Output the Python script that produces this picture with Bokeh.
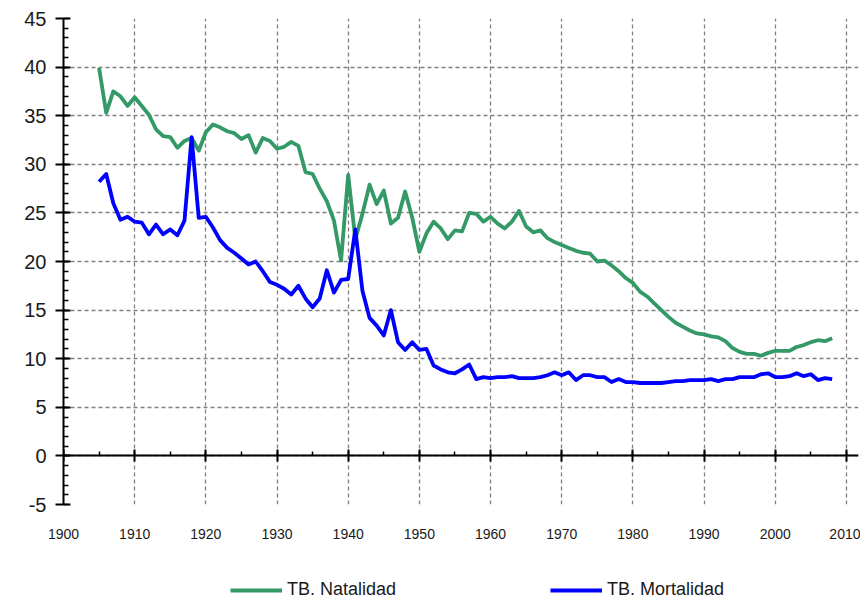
from bokeh.plotting import figure
from bokeh.layouts import column
from bokeh.models import (Range1d, SingleIntervalTicker, LinearAxis, Legend,
                          LegendItem, ColumnDataSource, Grid)
from bokeh.embed import file_html
from bokeh.resources import INLINE

years = list(range(1905, 2009))
natalidad = [39.9, 35.3, 37.5, 37.0, 36.0, 36.9, 36.0, 35.1, 33.6, 32.9,
             32.8, 31.7, 32.4, 32.7, 31.4, 33.3, 34.1, 33.8, 33.4, 33.2,
             32.6, 33.0, 31.2, 32.7, 32.4, 31.6, 31.8, 32.3, 31.9, 29.2,
             29.0, 27.5, 26.2, 24.2, 20.1, 28.9, 22.3, 24.9, 27.9, 25.9,
             27.3, 23.9, 24.5, 27.2, 24.5, 21.0, 22.9, 24.1, 23.4, 22.3,
             23.2, 23.1, 25.0, 24.9, 24.1, 24.6, 23.9, 23.4, 24.1, 25.2,
             23.6, 23.0, 23.2, 22.4, 22.0, 21.7, 21.4, 21.1, 20.9, 20.8,
             20.0, 20.1, 19.6, 19.0, 18.3, 17.8, 16.9, 16.4, 15.7, 15.0,
             14.3, 13.7, 13.3, 12.9, 12.6, 12.5, 12.3, 12.2, 11.8, 11.1,
             10.7, 10.5, 10.5, 10.3, 10.6, 10.8, 10.8, 10.8, 11.2, 11.4,
             11.7, 11.9, 11.8, 12.1]
mortalidad = [28.2, 29.0, 26.0, 24.3, 24.6, 24.1, 24.0, 22.8, 23.8, 22.8,
              23.3, 22.7, 24.2, 32.8, 24.5, 24.6, 23.5, 22.2, 21.4, 20.9,
              20.3, 19.7, 20.0, 19.0, 17.9, 17.6, 17.2, 16.6, 17.5, 16.2,
              15.3, 16.2, 19.1, 16.8, 18.1, 18.2, 23.3, 17.0, 14.2, 13.4,
              12.4, 15.0, 11.7, 10.9, 11.7, 10.9, 11.0, 9.3, 8.9, 8.6,
              8.5, 8.9, 9.4, 7.9, 8.1, 8.0, 8.1, 8.1, 8.2, 8.0,
              8.0, 8.0, 8.1, 8.3, 8.6, 8.3, 8.6, 7.8, 8.3, 8.3,
              8.1, 8.1, 7.6, 7.9, 7.6, 7.6, 7.5, 7.5, 7.5, 7.5,
              7.6, 7.7, 7.7, 7.8, 7.8, 7.8, 7.9, 7.7, 7.9, 7.9,
              8.1, 8.1, 8.1, 8.4, 8.5, 8.1, 8.1, 8.2, 8.5, 8.2,
              8.4, 7.8, 8.0, 7.9]
series_names = ["TB. Natalidad", "TB. Mortalidad"]
series_colors = ["#339966", "#0000FF"]
y_label_overrides = {-5: "-5"}

FONT = "Liberation Sans"
LW = 3.8

p = figure(width=860, height=578, output_backend="svg", toolbar_location=None,
           x_range=Range1d(1900, 2011.7), y_range=Range1d(-5, 45),
           x_axis_type=None, y_axis_type=None,
           min_border_left=63, min_border_right=2, min_border_top=18,
           min_border_bottom=74)
p.outline_line_color = None
p.background_fill_color = "white"
p.border_fill_color = "white"

xt = SingleIntervalTicker(interval=10, num_minor_ticks=2)
yt = SingleIntervalTicker(interval=5, num_minor_ticks=5)

# y axis
yax = LinearAxis(ticker=yt)
yax.axis_line_color = "black"
yax.axis_line_width = 2
yax.major_tick_line_color = "black"
yax.major_tick_line_width = 2
yax.major_tick_in = 7
yax.major_tick_out = 8
yax.minor_tick_line_color = "black"
yax.minor_tick_line_width = 1.5
yax.minor_tick_in = 5
yax.minor_tick_out = 0
yax.major_label_standoff = 9
yax.major_label_text_font = FONT
yax.major_label_text_font_size = "20px"
yax.major_label_text_color = "#1a1a1a"
yax.major_label_overrides = y_label_overrides
p.add_layout(yax, "left")

# x axis labels (bottom)
xlab = LinearAxis(ticker=xt)
xlab.axis_line_color = None
xlab.major_tick_line_color = None
xlab.minor_tick_line_color = None
xlab.major_tick_in = 0
xlab.major_tick_out = 0
xlab.minor_tick_out = 0
xlab.major_label_standoff = 24
xlab.major_label_text_font = FONT
xlab.major_label_text_font_size = "14px"
xlab.major_label_text_color = "#1a1a1a"
p.add_layout(xlab, "below")

# x axis line at zero
xzero = LinearAxis(ticker=xt, fixed_location=0)
xzero.axis_line_color = "black"
xzero.axis_line_width = 2
xzero.major_tick_line_color = "black"
xzero.major_tick_line_width = 2
xzero.major_tick_in = 6
xzero.major_tick_out = 6
xzero.minor_tick_line_color = "black"
xzero.minor_tick_line_width = 1.5
xzero.minor_tick_in = 4
xzero.minor_tick_out = 0
xzero.major_label_text_color = None
xzero.major_label_standoff = 0
p.add_layout(xzero, "below")

# grids
xg = Grid(dimension=0, ticker=xt, grid_line_color="#808080",
          grid_line_dash="4 3", grid_line_width=1.3)
yg = Grid(dimension=1, ticker=yt, grid_line_color="#808080",
          grid_line_dash="4 3", grid_line_width=1.3)
p.add_layout(xg)
p.add_layout(yg)

src = ColumnDataSource(dict(year=years, nat=natalidad, mor=mortalidad))
p.line("year", "nat", source=src, line_color=series_colors[0],
       line_width=LW, line_join="round")
p.line("year", "mor", source=src, line_color=series_colors[1],
       line_width=LW, line_join="round")

# legend strip below the chart (its lines lie outside its range, only the
# legend swatches show)
pl = figure(width=860, height=22, output_backend="svg", toolbar_location=None,
            x_range=Range1d(0, 1), y_range=Range1d(0, 1),
            x_axis_type=None, y_axis_type=None,
            min_border_left=0, min_border_right=0, min_border_top=0,
            min_border_bottom=0)
pl.outline_line_color = None
pl.grid.visible = False
items = []
for name, color, col in zip(series_names, series_colors, ["nat", "mor"]):
    rr = pl.line("year", col, source=src, line_color=color, line_width=LW)
    items.append(LegendItem(label=name, renderers=[rr]))
lg = Legend(items=items, location=(167, 0), orientation="horizontal",
            glyph_width=52, glyph_height=16, label_standoff=5, spacing=154,
            padding=0, margin=0, border_line_alpha=0, background_fill_alpha=0,
            label_text_font=FONT, label_text_font_size="18px",
            label_text_color="#1a1a1a")
pl.add_layout(lg)

layout = column(p, pl, spacing=0)
open("out.html", "w").write(file_html(layout, INLINE))
